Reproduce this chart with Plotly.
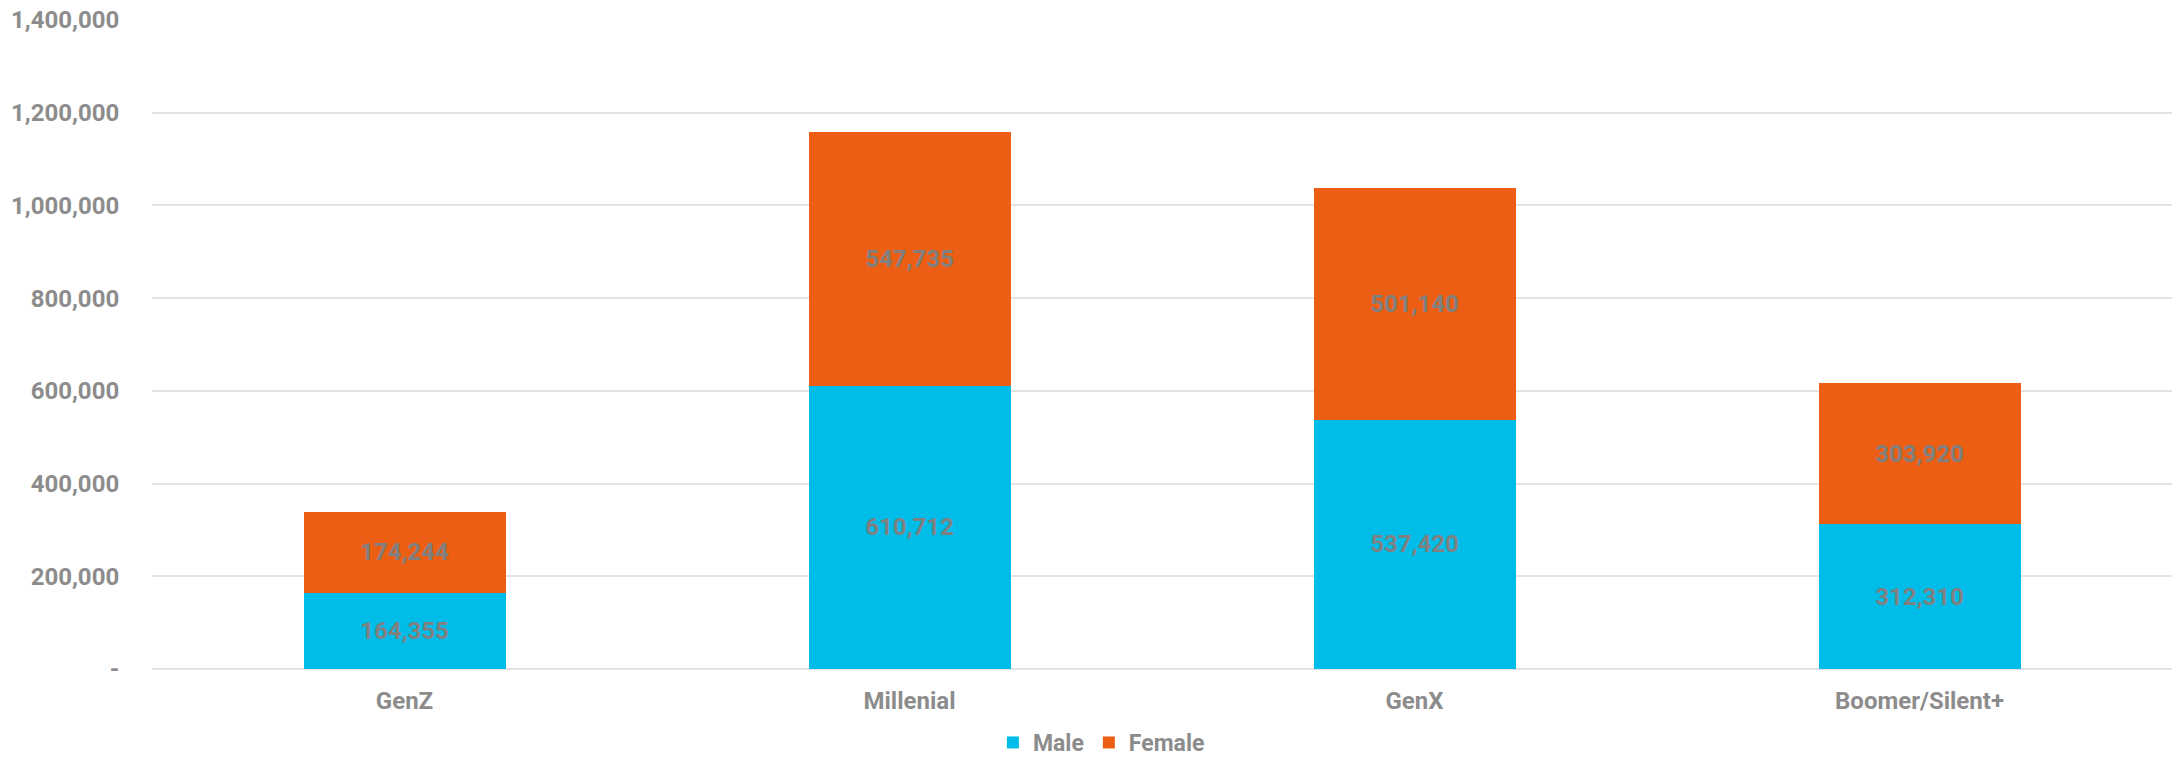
import plotly.graph_objects as go

# Population by generation, split by gender
generations = ["GenZ", "Millenial", "GenX", "Boomer/Silent+"]
male = [164355, 610712, 537420, 312310]
female = [174244, 547735, 501140, 303920]

y_tickvals = [0, 200000, 400000, 600000, 800000, 1000000, 1200000, 1400000]
y_ticktext = ["-", "200,000", "400,000", "600,000", "800,000", "1,000,000", "1,200,000", "1,400,000"]

MALE_COLOR = "#00BCE8"
FEMALE_COLOR = "#EB5E14"
LABEL_GRAY = "#808080"
AXIS_GRAY = "#8C8C8C"
FONT = "Roboto"
FS = 24

fig = go.Figure()
for name, vals, color in [("Male", male, MALE_COLOR), ("Female", female, FEMALE_COLOR)]:
    fig.add_trace(go.Bar(
        x=generations, y=vals, name=name,
        marker=dict(color=color, line=dict(width=0)),
        texttemplate="%{y:,}", textposition="inside",
        insidetextanchor="middle", constraintext="none",
        textfont=dict(family=FONT, size=FS, color=LABEL_GRAY, weight="bold"),
        hoverinfo="skip",
    ))

fig.update_layout(
    barmode="stack",
    bargap=0.6,
    width=2173, height=764,
    margin=dict(l=152, r=1, t=20, b=95, autoexpand=False),
    paper_bgcolor="white", plot_bgcolor="white",
    font=dict(family=FONT, size=FS, color=AXIS_GRAY, weight="bold"),
    legend=dict(
        orientation="h", x=0.47, xanchor="center",
        yref="container", y=0, yanchor="bottom",
        font=dict(family=FONT, size=23, color=AXIS_GRAY, weight="bold"),
        traceorder="normal", itemwidth=30, tracegroupgap=0,
    ),
    xaxis=dict(
        automargin=False,
        showgrid=False, showline=False, zeroline=False,
        ticks="outside", ticklen=10, tickcolor="rgba(0,0,0,0)",
        tickfont=dict(family=FONT, size=FS, color=AXIS_GRAY, weight="bold"),
    ),
    yaxis=dict(
        automargin=False,
        range=[0, 1400000],
        tickvals=y_tickvals, ticktext=y_ticktext,
        showgrid=True, gridcolor="#E3E3E3", gridwidth=1.5,
        zeroline=True, zerolinecolor="#E3E3E3", zerolinewidth=1.5,
        showline=False,
        ticks="outside", ticklen=27, tickcolor="rgba(0,0,0,0)",
        tickfont=dict(family=FONT, size=FS, color=AXIS_GRAY, weight="bold"),
    ),
)

fig.write_html("out.html")
